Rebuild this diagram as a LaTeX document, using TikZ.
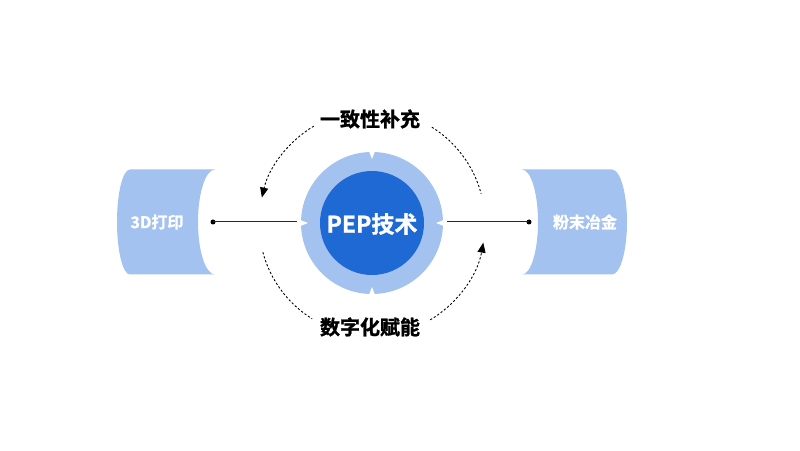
\documentclass[tikz,border=0pt]{standalone}
\usepackage{fontspec}
\setmainfont{Noto Sans CJK SC}
\newfontfamily\cjkb{Noto Sans CJK SC Bold}[FakeBold=1.2]
\usetikzlibrary{arrows.meta,calc}
\definecolor{lightb}{HTML}{A3C2F0}
\definecolor{darkb}{HTML}{1F69D4}
\tikzset{
  dasharc/.style={draw=black,line width=0.9pt,dash pattern=on 2.2pt off 2pt},
  arrowarc/.style={dasharc,-{Triangle[length=10pt,width=8pt]}},
  title/.style={font=\cjkb\fontsize{20}{24}\selectfont,text=black},
  sidetext/.style={font=\cjkb\fontsize{16}{19}\selectfont,text=white},
  dotnode/.style={circle,fill=black,inner sep=0pt,minimum size=5pt},
  link/.style={draw=black!85,line width=1pt},
  notch/.style={fill=white}
}
\begin{document}
\begin{tikzpicture}[x=1pt,y=1pt]
\useasboundingbox (0,0) rectangle (800,450);
\fill[white] (0,0) rectangle (800,450);
% side shapes
\fill[lightb] (130,280.5) -- (215,280.5) arc[start angle=90,end angle=270,x radius=17,y radius=52.5]
  -- (130,175.5) arc[start angle=270,end angle=90,x radius=13,y radius=52.5] -- cycle;
\fill[lightb] (522,280.5) -- (612,280.5) arc[start angle=90,end angle=-90,x radius=15,y radius=52.5]
  -- (522,175.5) arc[start angle=-90,end angle=90,x radius=16,y radius=52.5] -- cycle;
\node[sidetext] (left) at (157,228) {3D打印};
\node[sidetext] (right) at (585,228) {粉末冶金};
% center
\coordinate (c) at (372,227);
\node[circle,fill=lightb,minimum size=142pt,inner sep=0pt] (outer) at (c) {};
\foreach \a in {0,90,180,270}{
  \fill[notch] ([shift={(\a:71.5)}]c) -- ([shift={(\a+2.3:71.5)}]c) -- ([shift={(\a:64)}]c) -- ([shift={(\a-2.3:71.5)}]c) -- cycle;
}
\node[circle,fill=darkb,minimum size=104pt,inner sep=0pt] (inner) at (c) {};
\node[font=\cjkb\fontsize{23}{27}\selectfont,text=white] (pep) at (372,226) {PEP技术};
% connectors
\node[dotnode] (dl) at (213,228) {};
\node[dotnode] (dr) at (529,228) {};
\draw[link] (dl.center) -- ([xshift=-4pt]outer.west |- dl);
\draw[link] (dr.center) -- ([xshift=4pt]outer.east |- dr);
% dashed arcs
\draw[arrowarc] ([shift={(121:113)}]c) arc[start angle=121,end angle=167,radius=113];
\draw[dasharc] ([shift={(58:113)}]c) arc[start angle=58,end angle=15,radius=113];
\draw[dasharc] ([shift={(195:113)}]c) arc[start angle=195,end angle=238,radius=113];
\draw[arrowarc] ([shift={(301:113)}]c) arc[start angle=301,end angle=350,radius=113];
% titles
\node[title] (top) at (370,331) {一致性补充};
\node[title] (bottom) at (370,123) {数字化赋能};
\end{tikzpicture}
\end{document}
